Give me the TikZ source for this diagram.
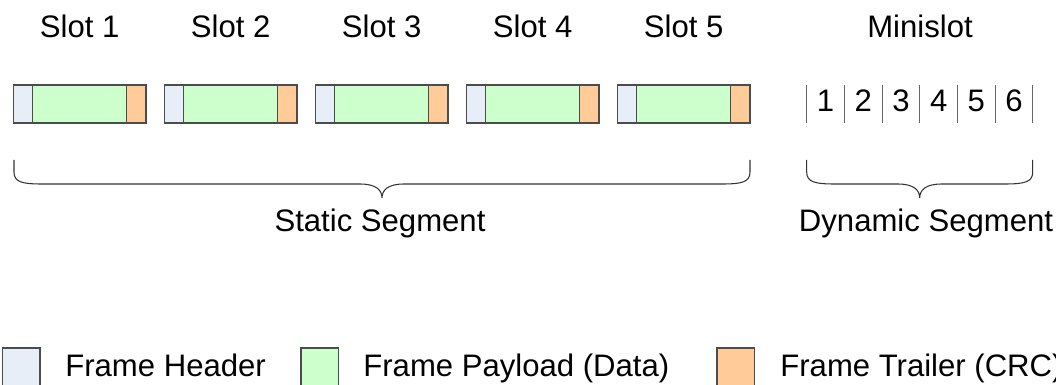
\documentclass[tikz,border=0pt]{standalone}
\usepackage{fontspec}
\setmainfont{Liberation Sans}
\usetikzlibrary{positioning}
\definecolor{Hdr}{HTML}{E8EEF8}
\definecolor{Pay}{HTML}{CCFFCC}
\definecolor{Crc}{HTML}{FFCC99}

% zaviti oklepaj: levo, desno, konica
\newcommand{\segbrace}[3]{%
	\draw[brace] (#1,160) -- (#1,172) .. controls (#1,182) and ({#1+8},184) .. ({#1+28},184)
		-- ({#3-22},184) .. controls ({#3-6},184) and (#3,190) .. (#3,198)
		.. controls (#3,190) and ({#3+6},184) .. ({#3+22},184)
		-- ({#2-28},184) .. controls ({#2-8},184) and (#2,182) .. (#2,172) -- (#2,160);
}

\begin{document}
\begin{tikzpicture}[x=0.02cm, y=-0.02cm, font=\fontsize{17.7}{21}\selectfont,
	field/.style={draw=black!70, line width=0.6pt, minimum height=0.76cm, inner sep=0pt, outer sep=0pt},
	txt/.style={anchor=base, inner sep=0pt},
	brace/.style={draw=black!80, line width=0.6pt}]
	\useasboundingbox (0,0) rectangle (1056,385);

	\foreach \i in {1,2,...,5} {
		\node ({H\i}) at ({13.3+151*(\i-1)},85) [field, anchor=north west, fill=Hdr, minimum width=0.388cm] {};
		\node ({P\i}) [field, right=0pt of H\i, fill=Pay, minimum width=1.88cm] {};
		\node ({T\i}) [field, right=0pt of P\i, fill=Crc, minimum width=0.386cm] {};
		\node ({S\i}) at ({13.3+151*(\i-1)+66.4},37.3) [txt] {Slot \i};
	}

	\node (Mini) at (920,37.3) [txt] {Minislot};
	\foreach \k in {0,...,6}
		\draw[black!60, line width=0.6pt] ({806.7+37.7*\k},85) -- ({806.7+37.7*\k},123);
	\foreach \k in {1,...,6}
		\node ({M\k}) at ({806.7+37.7*(\k-0.5)},112) [txt] {\k};

	\segbrace{14}{750}{382}
	\segbrace{806.7}{1032.7}{919.7}
	\node (Stat) at (380,232) [txt] {Static Segment};
	\node (Dyn) at (926,232) [txt] {Dynamic Segment};

	\node (LH) at (2.7,348) [field, anchor=north west, fill=Hdr, minimum size=0.746cm] {};
	\node (LHt) at (65,377) [txt, anchor=base west] {Frame Header};
	\node (LP) at (301,348) [field, anchor=north west, fill=Pay, minimum size=0.746cm] {};
	\node (LPt) at (363,377) [txt, anchor=base west] {Frame Payload (Data)};
	\node (LT) at (717,348) [field, anchor=north west, fill=Crc, minimum size=0.746cm] {};
	\node (LTt) at (780,377) [txt, anchor=base west] {Frame Trailer (CRC)};
\end{tikzpicture}
\end{document}
